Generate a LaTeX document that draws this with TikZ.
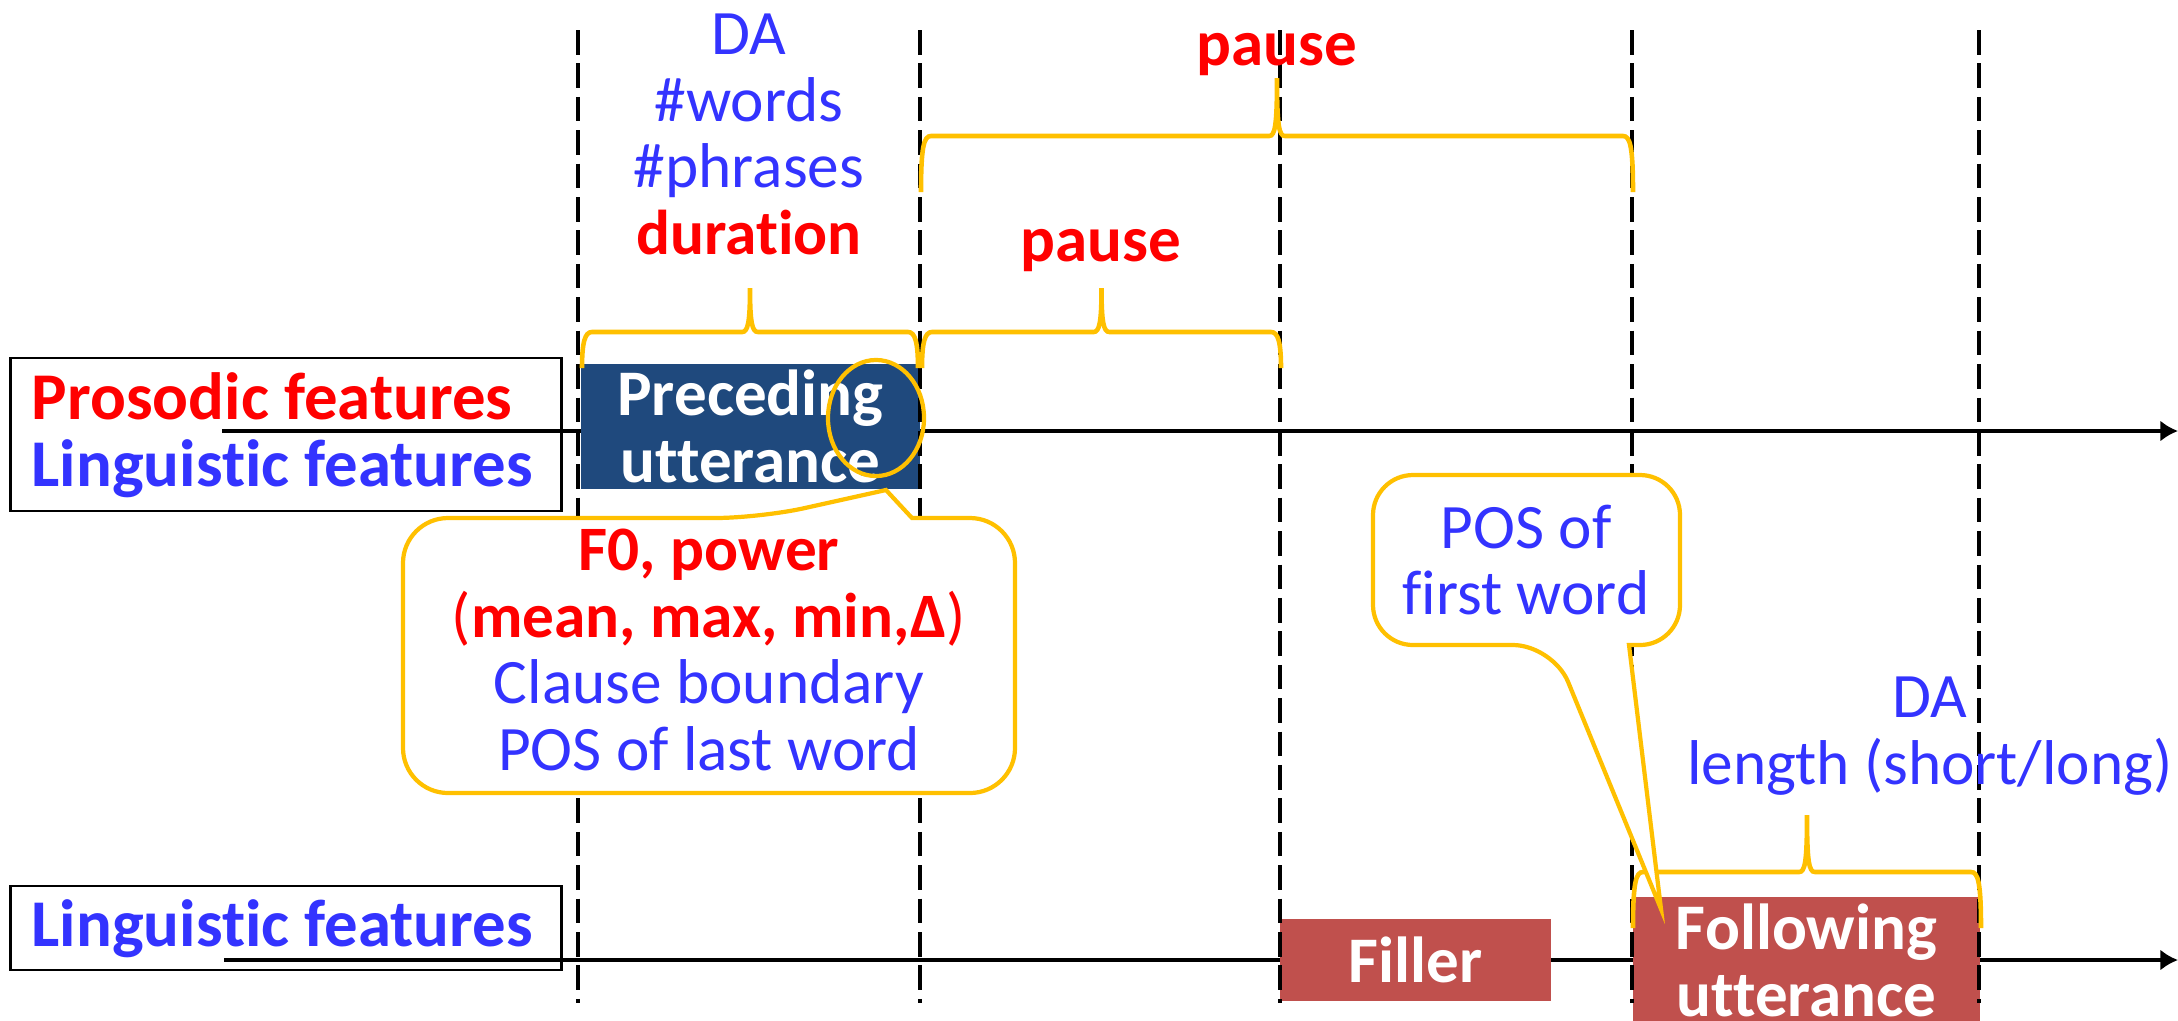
\documentclass[tikz,border=0pt]{standalone}
\usepackage{fontspec}
\setmainfont{Carlito}[Ligatures={NoCommon,NoContextual}]
\usetikzlibrary{arrows.meta}

\definecolor{featred}{RGB}{255,0,0}
\definecolor{featblue}{RGB}{51,51,255}
\definecolor{markorange}{RGB}{255,192,0}
\definecolor{predark}{RGB}{31,73,125}
\definecolor{follred}{RGB}{192,80,77}

\tikzset{
  txt/.style={inner sep=0pt, align=center, text=featblue, font=\fontsize{18}{19}\selectfont},
  key/.style={txt, text=featred, font=\fontsize{18.5}{19}\selectfont\bfseries},
  labeltext/.style={txt, align=left, font=\fontsize{19}{19}\selectfont\bfseries},
  labelbox/.style={draw, line width=0.8pt, minimum width=5.5cm, inner sep=0pt},
  unit/.style={inner sep=0pt, align=center, text=white, font=\fontsize{18.5}{19}\selectfont\bfseries},
  axis/.style={line width=1.3pt, -{Latex[length=5pt,width=6pt]}},
  guide/.style={line width=0.9pt, dash pattern=on 7pt off 2.5pt},
  markbrace/.style={draw=markorange, line width=1.3pt},
  callout/.style={draw=markorange, fill=white, line width=1.2pt},
}

% red bold words inside the blue notes
\newcommand{\rb}[1]{\textcolor{featred}{\bfseries #1}}

% curly brace over a time span: left x, right x, end y, flat y, tip y
\newcommand{\timebrace}[5]{%
  \pgfmathsetmacro{\bmid}{(#1+#2)/2}
  \draw[markbrace] (#1,#3) .. controls (#1,#4+10) and (#1+3,#4) .. (#1+10,#4)
    -- (\bmid-8,#4) .. controls (\bmid-2,#4) and (\bmid,#4-10) .. (\bmid,#5)
    .. controls (\bmid,#4-10) and (\bmid+2,#4) .. (\bmid+8,#4)
    -- (#2-10,#4) .. controls (#2-3,#4) and (#2,#4+10) .. (#2,#3);
}

\begin{document}
\begin{tikzpicture}[x=0.01cm, y=-0.01cm]
  \useasboundingbox (0,0) rectangle (2178,1020);

  % feature labels on the left
  \node[labelbox, minimum height=1.53cm] (toplab) at (286,434.5) {};
  \node[labeltext, anchor=west] (toptext) at (31,435) {\textcolor{featred}{Prosodic features}\\Linguistic features};
  \node[labelbox, minimum height=0.84cm] (botlab) at (286,928) {};
  \node[labeltext, anchor=base west] (bottext) at (31,946) {Linguistic features};

  % time axes
  \coordinate (axisa) at (222,431);
  \coordinate (axisaend) at (2178,431);
  \coordinate (axisb) at (224,960);
  \coordinate (axisbend) at (2178,960);
  \draw[axis] (axisa) -- (axisaend);
  \draw[axis] (axisb) -- (axisbend);

  % utterances
  \node[unit, fill=predark, minimum width=3.39cm, minimum height=1.25cm] (pre) at (750.5,426.5) {Preceding\\utterance};
  \node[unit, fill=follred, minimum width=2.71cm, minimum height=0.82cm] (filler) at (1415.5,960) {Filler};
  \node[unit, fill=follred, minimum width=3.47cm, minimum height=1.26cm] (fol) at (1806.5,960) {Following\\utterance};

  % boundaries
  \foreach \x in {578,920,1280,1632,1979}
    \draw[guide] (\x,30) -- (\x,1003);

  % spans
  \timebrace{582}{918}{368}{332}{288}
  \timebrace{922}{1281}{368}{332}{288}
  \timebrace{921}{1633}{192}{136}{78}
  \timebrace{1633}{1981}{928}{872}{815}

  \draw[markorange, line width=1.2pt] (876,418) ellipse [x radius=0.48cm, y radius=0.58cm];

  % callouts
  \draw[callout] (912,518) [rounded corners=0.45cm] -- (1015,518) -- (1015,793) -- (403,793) -- (403,518) -- (760,518) [sharp corners] -- (886,490) -- cycle;
  \node[txt] (prosody) at (709,650) {\rb{F0, power}\\\rb{{\mdseries(}mean, max, min,Δ{\mdseries)}}\\Clause boundary\\POS of last word};

  \draw[callout] (1629,645) [rounded corners=0.4cm] -- (1680,645) -- (1680,475) -- (1373,475) -- (1373,645) -- (1553,645) [sharp corners] -- (1661,909) -- cycle;
  \node[txt] (firstpos) at (1526,560) {POS of\\first word};

  % span labels
  \node[txt, anchor=north] (dainfo) at (749,13) {DA\\\#words\\\#phrases\\\rb{duration}};
  \node[key, anchor=base] (pausea) at (1101,261) {pause};
  \node[key, anchor=base] (pauseb) at (1277,65) {pause};
  \node[txt] (dafol) at (1930,736) {DA\\length (short/long)};
\end{tikzpicture}
\end{document}
